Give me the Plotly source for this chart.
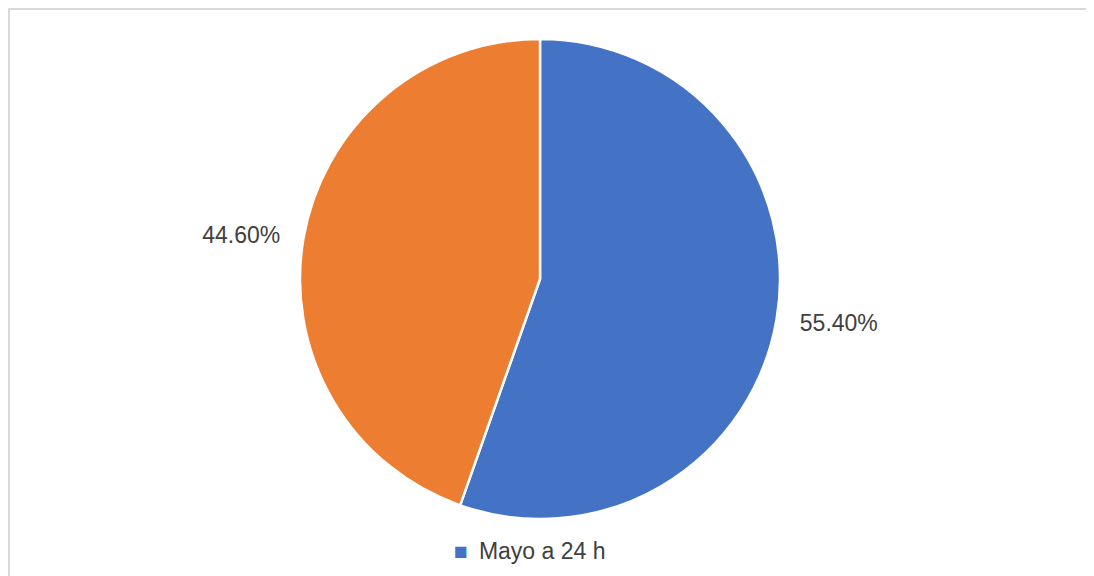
import plotly.graph_objects as go

labels = ["Mayo a 24 h", "Otros"]
values = [55.40, 44.60]
colors = ["#4472C4", "#ED7D31"]
legend_label = "Mayo a 24 h"

W, H = 1094, 576
ML, MR, MT, MB = 0, 30, 0, 36
PW, PH = W - ML - MR, H - MT - MB

def px_x(x):
    return (x - ML) / PW

def px_y(y):
    return (H - MB - y) / PH

FONT = "Liberation Sans, Arial, sans-serif"
CX, CY = 532, 271          # pie centre in figure pixels
R_PIE, R_LABEL, HALF_W = 240, 257, 300

def dom(r):
    return dict(x=[px_x(CX - HALF_W), px_x(CX + HALF_W)],
                y=[px_y(CY + r), px_y(CY - r)])

fig = go.Figure()
fig.add_trace(go.Pie(
    labels=labels, values=values, sort=False, direction="clockwise", rotation=0,
    domain=dom(R_PIE),
    marker=dict(colors=colors, line=dict(color="white", width=2.5)),
    textinfo="none", automargin=False, showlegend=False,
    hoverinfo="label+percent",
))
fig.add_trace(go.Pie(
    labels=labels, values=values, sort=False, direction="clockwise", rotation=0,
    domain=dom(R_LABEL),
    marker=dict(colors=["rgba(0,0,0,0)"] * len(values), line=dict(width=0)),
    texttemplate="%{percent:.2%}", textposition="outside", automargin=False,
    outsidetextfont=dict(size=23, color="#404040", family=FONT),
    showlegend=False, hoverinfo="skip",
))

fig.add_shape(type="rect", xref="paper", yref="paper",
              x0=px_x(1), x1=px_x(1200), y0=px_y(700), y1=px_y(1),
              line=dict(color="#d9d9d9", width=2), fillcolor="rgba(0,0,0,0)", layer="below")

fig.add_annotation(
    xref="paper", yref="paper", x=px_x(521), y=px_y(543),
    text=f"<span style='color:{colors[0]}'>■</span> &#8201;{legend_label}",
    showarrow=False, xanchor="center", yanchor="middle",
    font=dict(size=23, color="#404040", family=FONT),
)

fig.update_layout(
    width=W, height=H, autosize=False,
    margin=dict(l=ML, r=MR, t=MT, b=MB, autoexpand=False),
    paper_bgcolor="white", plot_bgcolor="white",
    font=dict(family=FONT),
    showlegend=False,
)

fig.write_html("out.html")
